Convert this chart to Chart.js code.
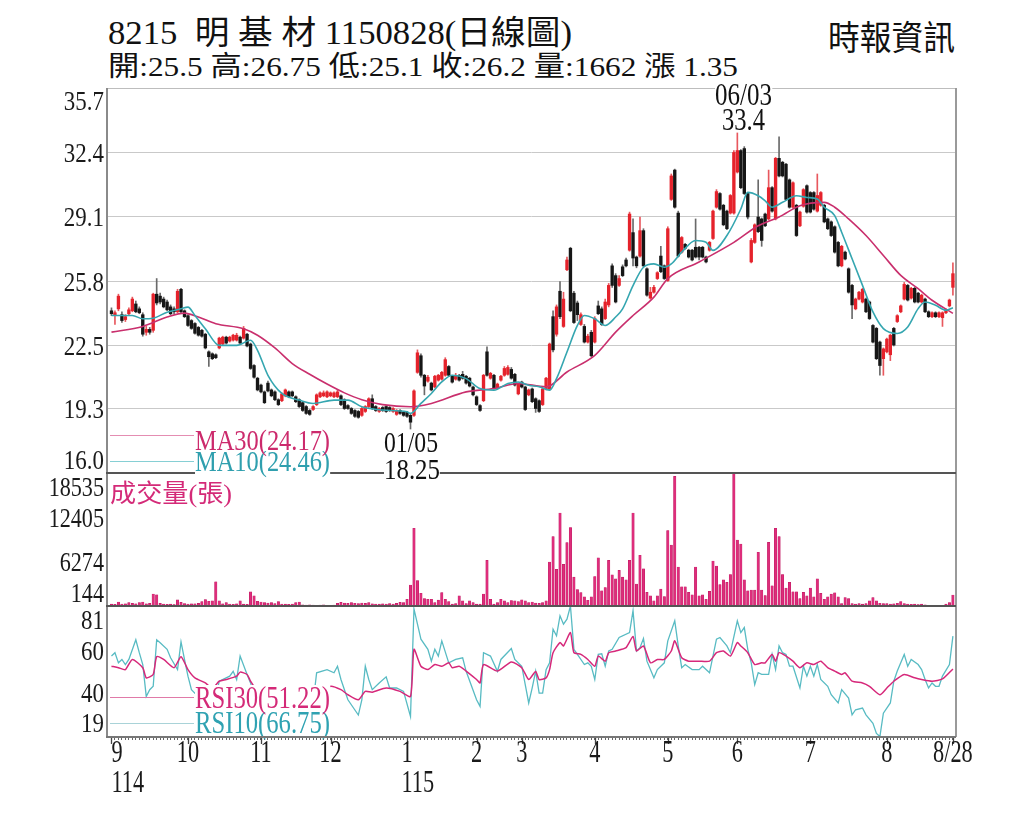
<!DOCTYPE html>
<html><head><meta charset="utf-8">
<script src="https://cdn.jsdelivr.net/npm/chart.js@4.4.1/dist/chart.umd.min.js"></script>
<style>
html,body{margin:0;padding:0;background:#fff;}
#wrap{position:relative;width:1024px;height:819px;overflow:hidden;background:#fff;}
canvas{position:absolute;left:0;}
.t{position:absolute;white-space:pre;font-family:"Liberation Serif","Noto Sans CJK TC",serif;line-height:1;transform-origin:0 0;}
.ln{position:absolute;}
</style></head><body>
<div id="wrap">
<canvas id="cP" width="1024" height="385" style="top:88px"></canvas>
<canvas id="cV" width="1024" height="133" style="top:473px"></canvas>
<canvas id="cR" width="1024" height="213" style="top:606px"></canvas>
</div>
<script>
// ---------------- data ----------------
const openP = [
24.30,24.05,24.40,24.10,23.85,24.15,24.30,24.65,24.40,24.10,
23.20,23.35,23.30,25.15,25.05,24.90,24.75,24.50,24.40,24.25,
25.40,24.30,24.05,23.80,23.65,23.45,23.30,23.10,22.20,22.10,
22.05,22.40,22.60,22.95,22.75,22.80,22.80,22.95,22.90,23.10,
22.60,21.50,20.85,20.50,20.15,20.60,20.25,20.15,19.75,19.70,
19.95,20.15,20.15,19.90,19.75,19.60,19.40,19.20,19.25,19.50,
19.90,19.95,19.90,19.95,19.90,19.90,19.95,19.75,19.45,19.30,
19.20,19.15,18.95,19.15,19.40,19.80,19.40,19.15,19.35,19.40,
19.35,19.15,19.00,19.20,19.10,19.10,18.95,18.95,21.15,22.00,
21.00,20.70,20.60,20.40,20.75,20.80,21.00,21.45,20.95,20.80,
21.00,21.05,20.95,20.85,20.40,19.90,19.45,19.70,22.20,20.85,
21.00,20.35,20.75,21.00,21.05,21.30,21.05,20.05,20.65,20.40,
20.00,20.30,19.80,19.70,19.50,20.30,20.30,24.00,23.10,25.30,
23.50,26.40,27.50,25.20,24.70,23.60,23.50,22.70,23.20,22.70,
24.55,24.40,23.90,24.60,26.60,26.10,25.60,26.55,26.90,27.40,
28.30,27.05,27.10,28.40,26.45,24.95,25.25,25.95,27.10,26.60,
25.85,30.00,31.50,29.30,27.30,27.70,27.40,27.40,27.55,27.55,
27.55,27.05,27.40,28.00,29.60,30.30,29.70,29.40,29.30,29.30,
31.40,32.50,32.60,30.30,26.80,27.80,29.10,29.00,29.25,29.00,
30.60,29.00,32.10,31.90,31.80,31.00,29.60,29.70,28.65,29.65,
30.70,30.35,30.35,29.40,29.70,29.70,29.00,28.85,28.60,27.80,
26.60,27.30,26.45,25.60,24.40,24.90,24.75,24.90,24.75,23.55,
23.40,22.70,21.85,22.20,22.05,23.40,23.75,24.25,24.90,25.60,
24.95,25.45,25.20,24.75,24.90,24.25,24.00,24.20,24.00,23.95,
24.20,24.55,25.50];
const highP = [
24.45,24.30,25.15,24.25,24.10,24.45,25.00,24.80,24.50,24.20,
23.50,23.45,25.20,25.95,25.20,25.00,24.85,24.60,24.50,25.40,
25.45,24.35,24.10,23.85,23.70,23.50,23.35,23.15,22.25,22.15,
22.10,22.95,23.00,23.00,23.00,23.10,23.15,23.00,23.50,23.15,
22.65,21.55,20.90,20.55,20.20,20.70,20.30,20.20,19.80,20.10,
20.30,20.20,20.20,19.95,19.80,19.65,19.45,19.25,19.45,20.05,
20.15,20.20,20.20,20.15,20.15,20.25,20.00,19.80,19.50,19.35,
19.25,19.20,19.35,19.45,19.85,20.00,19.45,19.35,19.40,19.45,
19.40,19.35,19.25,19.25,19.15,19.15,19.00,20.25,22.30,22.10,
21.05,21.00,20.65,21.00,21.05,21.20,21.90,21.50,21.00,21.10,
21.05,21.20,21.00,20.90,20.45,19.95,19.50,21.05,22.45,21.15,
21.05,20.60,21.00,21.45,21.50,21.40,21.10,20.60,20.70,20.45,
20.30,20.35,19.85,19.75,20.35,20.90,22.65,24.30,24.60,25.80,
25.25,27.05,27.55,25.30,24.80,24.20,23.60,23.10,23.30,24.00,
24.80,24.50,24.90,25.70,26.70,26.20,26.10,26.65,27.00,29.35,
29.00,27.10,29.10,28.50,26.50,25.50,25.60,26.30,27.60,26.65,
28.60,31.30,31.55,29.40,28.10,27.75,27.45,27.45,29.00,27.60,
27.60,27.10,27.85,29.45,30.50,30.35,29.75,29.45,30.25,32.50,
33.40,32.55,32.70,30.35,28.00,28.75,31.00,29.05,29.30,31.50,
30.65,32.15,33.20,31.95,31.85,31.05,30.90,29.75,29.40,30.55,
30.75,30.40,30.40,31.30,30.40,29.75,29.05,28.90,28.65,27.85,
27.65,27.35,26.50,25.65,24.95,25.30,25.45,24.95,24.80,23.60,
23.45,22.75,22.40,22.90,23.10,23.45,24.10,24.60,25.75,25.65,
25.50,25.50,25.25,25.15,24.95,24.30,24.25,24.25,24.25,24.25,
24.40,24.90,26.75];
const lowP = [
24.05,23.60,24.30,23.70,23.75,24.10,24.25,24.20,24.15,23.00,
23.05,23.10,23.20,24.60,24.65,24.45,24.30,24.10,24.15,24.20,
24.20,23.95,23.50,23.35,23.10,23.00,22.95,22.35,21.45,21.80,
21.85,22.35,22.55,22.60,22.70,22.75,22.75,22.60,22.85,22.45,
21.30,20.85,20.20,20.10,19.55,20.15,19.90,19.70,19.45,19.65,
19.90,19.85,19.90,19.60,19.35,19.15,19.00,18.95,19.20,19.45,
19.85,19.90,19.85,19.90,19.85,19.85,19.45,19.25,19.25,19.00,
18.85,18.80,18.90,19.10,19.35,19.25,19.15,19.10,19.15,19.10,
19.15,19.10,18.95,19.00,18.90,18.85,18.25,18.90,21.10,20.90,
20.00,20.65,20.20,20.35,20.70,20.75,20.95,20.95,20.60,20.75,
20.70,20.80,20.55,20.40,19.95,19.45,19.15,19.65,20.95,20.80,
20.30,20.30,20.70,20.95,21.00,20.80,20.45,20.00,20.35,19.20,
19.95,19.60,19.10,19.10,19.45,20.25,20.25,22.20,23.00,23.90,
23.45,26.35,24.25,23.65,23.80,23.55,22.65,22.65,21.95,22.65,
24.10,23.55,23.85,24.50,25.50,24.70,25.55,26.05,26.55,27.35,
26.60,26.50,27.05,26.55,25.05,24.90,25.20,25.90,26.25,25.90,
25.80,29.95,29.55,27.05,27.25,27.45,27.00,26.85,27.00,26.90,
27.00,26.75,27.35,27.95,29.55,29.45,28.65,28.45,29.25,29.25,
31.35,30.55,30.25,29.00,26.75,27.75,28.30,27.60,28.60,28.95,
29.35,28.95,31.15,31.15,29.95,29.55,29.55,28.10,28.60,29.60,
29.30,29.30,29.45,29.35,29.65,28.80,28.45,28.10,27.25,26.55,
26.55,26.90,25.20,23.90,24.35,24.85,24.70,24.20,23.85,22.65,
21.80,21.00,21.00,22.15,21.75,22.50,23.70,24.20,24.85,24.80,
24.90,24.70,24.70,24.70,24.20,23.95,23.95,23.95,23.95,23.50,
24.15,24.50,25.10];
const closeP = [
24.15,24.20,25.05,23.80,24.00,24.35,24.90,24.25,24.20,23.10,
23.35,23.20,25.15,24.70,24.75,24.50,24.35,24.15,24.25,25.30,
24.25,24.00,23.55,23.40,23.15,23.05,23.00,22.40,21.95,21.85,
21.90,22.90,22.95,22.65,22.95,23.05,23.05,22.65,23.40,22.50,
21.35,20.90,20.25,20.15,19.60,20.20,19.95,19.75,19.50,20.05,
20.25,19.90,19.95,19.65,19.40,19.20,19.05,19.00,19.40,20.00,
20.10,20.10,20.15,20.10,20.10,20.15,19.50,19.30,19.30,19.05,
18.90,18.85,19.30,19.40,19.80,19.30,19.20,19.30,19.20,19.15,
19.20,19.30,19.20,19.05,18.95,18.90,18.60,20.20,22.15,21.00,
20.45,20.90,20.25,20.95,21.00,21.15,21.80,21.00,20.65,21.00,
20.75,20.85,20.60,20.45,20.00,19.50,19.20,21.00,21.00,21.10,
20.35,20.55,20.95,21.35,21.40,20.85,20.50,20.55,20.40,19.25,
20.25,19.65,19.30,19.15,20.30,20.85,22.60,22.30,24.50,24.00,
24.90,26.90,24.30,23.70,24.10,24.10,22.70,23.00,22.00,23.90,
24.15,23.60,24.75,25.60,25.60,24.75,25.95,26.10,26.60,29.25,
27.00,26.60,28.40,26.60,25.10,25.25,25.50,26.25,26.30,25.95,
28.50,31.20,29.60,27.10,28.05,27.50,27.05,26.90,27.05,27.05,
27.05,26.80,27.80,29.40,30.40,29.50,28.70,28.50,30.20,32.40,
32.50,30.60,30.30,29.10,27.90,28.70,28.35,27.90,28.65,30.60,
29.40,32.10,31.20,31.20,30.00,29.60,30.85,28.15,29.35,30.50,
29.35,29.35,29.50,30.20,30.35,28.85,28.50,28.15,27.30,26.60,
27.60,26.95,25.25,24.60,24.90,25.25,25.40,24.25,23.90,22.70,
21.85,21.50,22.35,22.85,23.05,22.55,24.05,24.55,25.65,24.85,
25.45,24.75,24.75,25.10,24.25,24.00,24.20,24.00,24.20,24.20,
24.35,24.85,26.20];
const volume = [
400,380,700,420,450,600,500,450,600,700,
450,500,1800,1700,500,420,380,400,350,1000,
650,480,420,460,450,500,750,1030,800,850,
3500,850,450,600,420,380,450,850,400,380,
2100,1550,800,700,620,550,600,470,750,420,
400,380,420,600,700,300,280,300,280,250,
280,300,250,200,260,520,650,550,500,600,
520,480,550,500,620,450,420,400,450,420,
480,420,500,650,600,1080,3050,10900,3650,1900,
1170,1080,1080,620,950,2000,1080,750,400,470,
1550,850,470,850,620,400,400,1800,6460,1080,
400,620,1080,850,620,900,850,750,1000,850,
600,700,550,500,620,850,6230,9740,5200,13000,
5900,8900,11000,4130,2400,2000,1400,940,1400,4220,
6800,2250,2700,6460,4450,3900,5060,4130,3750,6460,
13000,3180,7160,5290,2020,1550,850,1550,2480,1450,
10580,8570,18070,5530,2810,2810,2020,1690,5530,1550,
1690,1080,2160,6370,5670,3090,3750,3420,4500,18535,
9270,8700,3750,2250,2340,2340,7580,2340,1600,8940,
2950,10900,9740,4500,2620,3420,2110,2110,1170,2020,
1550,2620,1410,3890,1880,1080,1410,1780,1970,1410,
470,1310,1170,470,420,470,400,470,850,1310,
850,520,470,470,420,450,520,750,470,420,
380,400,350,400,300,250,230,230,230,250,
400,620,1662];

// moving averages (day index, value)
const ma30Days = [0,9,16,21,25,30,38,42,47,52,57,62,67,72,78,86,92,102,110,117,125,131,139,145,150,156,160,169,179,186,192,198,205,208,212,217,222,227,232,236,242];
const ma30Vals = [23.21,23.5,23.98,24.18,23.98,23.64,23.38,23.05,22.4,21.6,21.05,20.55,20.1,19.75,19.5,19.39,19.56,20.15,20.32,20.58,20.41,21.17,22.02,23.21,24.06,25.0,25.95,26.8,27.8,28.65,29.1,29.68,29.85,29.6,29.0,28.15,27.13,26.11,25.43,24.84,24.17];
const ma10Days = [0,6,9,12,16,20,22,24,27,31,36,40,42,45,49,54,58,64,68,72,78,85,86,89,92,95,98,102,106,110,114,117,120,123,126,128,131,134,136,139,142,145,147,150,153,156,159,161,164,168,171,173,177,181,183,186,188,190,193,197,200,203,205,208,210,213,216,219,222,226,229,232,234,237,240,242];
const ma10Vals = [24.06,24.06,23.89,23.92,24.23,24.4,24.49,24.06,23.38,22.53,22.53,22.79,22.28,21.0,20.07,19.73,19.56,19.73,19.73,19.39,19.22,19.13,19.05,19.56,20.07,20.66,21.0,20.83,20.32,20.24,20.58,20.66,20.49,20.41,20.24,20.83,22.19,23.55,24.06,23.89,23.55,23.98,24.4,25.59,26.53,26.7,26.53,26.7,27.3,27.9,27.81,27.39,28.15,29.51,30.36,30.19,29.93,29.6,29.85,30.19,30.1,30.02,29.6,29.17,28.32,26.96,25.6,24.24,23.39,23.14,23.47,24.41,24.75,24.58,24.33,24.46];

// RSI (day index, value)
const rsi10Days = [0,1,2,3,4,5,7,8,9,10,11,12,13,14,16,17,19,20,21,22,23,25,27,29,31,34,35,36,37,39,40,42,44,46,48,50,52,54,56,58,59,62,64,65,66,67,68,71,72,73,74,75,77,79,80,82,84,86,87,89,91,92,93,94,95,97,99,101,102,105,106,107,109,111,112,115,116,118,120,121,122,123,124,125,126,127,128,129,130,131,132,133,134,136,137,138,139,140,141,142,143,144,146,149,150,151,152,153,154,156,157,159,160,162,163,164,165,167,169,170,172,174,175,177,178,180,181,182,183,184,185,186,187,189,190,191,192,193,194,195,196,198,199,200,201,202,203,204,206,207,209,210,212,213,214,216,217,219,220,221,222,224,225,226,228,229,230,232,233,234,235,236,237,238,239,241,242];
const rsi10Vals = [57.3,58.9,54.1,55.7,53.3,55.7,65.0,58.9,53.3,38.2,41.4,43.0,65.0,63.6,60.5,56.5,50.9,64.0,55.7,47.8,41.4,38,34,31,45.4,47.8,50.1,46.2,57.3,48.6,44.6,33,27,30,26,35,31,28,26,35,49.4,50.9,49.4,52.5,46.2,41.4,36.6,29.4,36.6,52.5,46.2,41.4,44.6,47.5,42.2,42.2,40.6,28.7,79.6,65.3,60.5,54.9,60.5,57.3,64.5,54.1,55.7,56.5,50.1,36.6,33.5,58.9,57.3,50.1,55.7,60.9,55.7,52.5,35.1,42.2,50.2,39.8,39.8,50.9,54.1,70.0,66.9,76.4,72.4,74.8,81.0,60.5,58.1,53.3,54.1,52.5,46.2,58.1,58.4,52.5,59.7,60.5,66.1,68.4,78.8,59.7,61.3,65.6,54.9,47.0,50.9,54.1,64.5,74.0,62.1,51.8,53.3,50.9,50.9,52.5,49.4,65.3,66.1,62.1,58.9,74.0,68.4,70.8,60.5,54.1,43.8,49.4,48.6,48.6,58.1,50.9,62.1,58.9,58.1,52.5,52.5,42.2,52.5,47.8,52.5,47.8,53.3,46.2,43.0,39.0,35.1,41.4,37.4,29.5,31.9,32.7,29.5,25.5,20.7,19.2,30.3,35.1,45.4,50.2,58.1,52.5,55.7,53.3,50.9,46.2,42.2,44.6,43.0,43.0,47.8,53.3,66.75];
const rsi30Days = [0,2,4,6,9,10,12,13,15,18,20,22,24,27,29,31,33,36,37,39,40,42,46,50,54,58,61,63,66,68,71,73,75,79,83,86,87,89,91,93,95,97,98,100,102,105,106,107,111,115,118,120,122,123,125,126,127,129,130,132,133,135,137,139,140,142,143,145,148,150,151,153,155,157,159,161,162,164,166,169,172,174,176,178,180,181,183,185,187,188,190,191,192,194,196,198,200,202,204,206,208,210,211,213,216,218,221,223,225,228,231,233,236,239,242];
const rsi30Vals = [52.5,51.8,50.9,55.7,51.8,47.0,48.6,57.0,55.7,51.8,57.0,50.9,47.0,44.6,42,45.4,46.2,47.8,49.7,48.6,45.4,41,39,38.5,38,38,40,43.0,41.4,39.0,36.6,40.6,40.2,42.2,40.6,38.2,60.5,52.5,50.9,53.3,52.5,54.1,51.8,52.5,50.2,46.2,44.6,53.3,50.2,54.5,51.8,46.2,50.0,46.2,47.0,50.9,58.9,63.7,62.1,68.4,58.9,58.1,55.7,52.5,57.3,54.9,58.9,59.7,61.3,66.6,59.7,62.1,54.1,55.7,55.7,59.7,64.5,56.5,54.9,54.9,54.9,58.9,59.7,57.3,63.7,62.1,58.9,53.3,54.1,54.1,58.1,54.9,58.9,57.3,54.9,51.8,54.1,53.3,54.9,51.8,50.2,48.6,49.4,45.4,44.6,43.0,39.0,42.2,45.4,48.6,47.0,46.2,45.4,46.5,51.22];

// axis ticks / labels
const priceTicks = [16.0,19.3,22.5,25.8,29.1,32.4,35.7];
const volTicks = [144,6274,12405,18535];
const rsiTicks = [19,40,60,81];
const monthDays = [0,22,43,63,85,105,118,139,160,180,201,223,242];
const monthLabels = ['9','10','11','12','1','2','3','4','5','6','7','8','8/28'];
const yearDays = [0,85];
const yearLabels = ['114','115'];

// ---------------- layout / style ----------------
const N = openP.length;
const dayIdx = Array.from({length: N}, (_, i) => i);
const X_MIN = -1, X_MAX = 242.6;
const FONT = '"Liberation Serif","Noto Sans CJK TC",serif';
const RED = '#e5222b', BLK = '#161616', RED_W = '#e8585e', BLK_W = '#6a6a6a';
const MA30C = '#c92f6d', MA10C = '#35a6b0', VOLC = '#de2d7b', RSI30C = '#d6287a', RSI10C = '#58bbc3';

const upDay = dayIdx.map(i => closeP[i] >= openP[i]);

function yLabelPlugin(vals, fmt, size, kx, half) {
  return {
    id: 'yLabels',
    afterDraw(chart) {
      const ctx = chart.ctx, s = chart.scales.y, a = chart.chartArea;
      ctx.save();
      ctx.font = size + 'px ' + FONT;
      ctx.fillStyle = '#1a1a1a';
      ctx.textAlign = 'right';
      ctx.textBaseline = 'alphabetic';
      vals.forEach(v => {
        let y = s.getPixelForValue(v);
        y = Math.max(a.top + half, Math.min(a.bottom - half, y));
        ctx.save();
        ctx.translate(a.left - 4, y + size * 0.34);
        ctx.scale(kx, 1);
        ctx.fillText(fmt(v), 0, 0);
        ctx.restore();
      });
      ctx.restore();
    }
  };
}

const xLabelPlugin = {
  id: 'xLabels',
  afterDraw(chart) {
    const ctx = chart.ctx, s = chart.scales.x, a = chart.chartArea;
    ctx.save();
    ctx.strokeStyle = '#444'; ctx.lineWidth = 1.3;
    monthDays.forEach(d => {
      const x = Math.round(s.getPixelForValue(d)) + 0.5;
      ctx.beginPath(); ctx.moveTo(x, a.bottom); ctx.lineTo(x, a.bottom + 7); ctx.stroke();
    });
    const size = 31, kx = 0.72;
    ctx.font = size + 'px ' + FONT; ctx.fillStyle = '#1a1a1a'; ctx.textBaseline = 'alphabetic';
    const lefts = {};
    monthDays.forEach((d, k) => {
      const x = s.getPixelForValue(d);
      const w = ctx.measureText(monthLabels[k]).width * kx;
      const left = k === 0 ? x : x - w / 2;
      lefts[d] = left;
      ctx.save(); ctx.translate(left, a.bottom + 25); ctx.scale(kx, 1);
      ctx.textAlign = 'left'; ctx.fillText(monthLabels[k], 0, 0); ctx.restore();
    });
    yearDays.forEach((d, k) => {
      ctx.save(); ctx.translate(lefts[d], a.bottom + 55); ctx.scale(kx, 1);
      ctx.textAlign = 'left'; ctx.fillText(yearLabels[k], 0, 0); ctx.restore();
    });
    ctx.restore();
  }
};

const baseOpts = (padBottom) => ({
  responsive: false, animation: false, events: [],
  layout: { padding: { left: 108, right: 69, top: 0, bottom: padBottom } },
  plugins: { legend: { display: false }, tooltip: { enabled: false } }
});
const hiddenX = { type: 'linear', min: X_MIN, max: X_MAX, offset: false, display: false };

// ---------------- price chart ----------------
new Chart(document.getElementById('cP'), {
  type: 'bar',
  data: { datasets: [
    { type: 'bar', data: dayIdx.map(i => ({ x: i, y: [lowP[i], highP[i]] })),
      backgroundColor: dayIdx.map(i => upDay[i] ? RED_W : BLK_W), barThickness: 1, grouped: false, order: 3 },
    { type: 'bar', data: dayIdx.map(i => ({ x: i, y: [openP[i], closeP[i]] })),
      backgroundColor: dayIdx.map(i => upDay[i] ? RED : BLK), barThickness: 2.7, minBarLength: 1, grouped: false, order: 2 },
    { type: 'line', data: ma30Days.map((d, k) => ({ x: d, y: ma30Vals[k] })), borderColor: MA30C, borderWidth: 1.6,
      pointRadius: 0, cubicInterpolationMode: 'monotone', order: 1 },
    { type: 'line', data: ma10Days.map((d, k) => ({ x: d, y: ma10Vals[k] })), borderColor: MA10C, borderWidth: 1.6,
      pointRadius: 0, cubicInterpolationMode: 'monotone', order: 0 }
  ]},
  options: Object.assign(baseOpts(0), {
    scales: {
      x: hiddenX,
      y: { type: 'linear', min: 16, max: 35.7, position: 'left',
        afterBuildTicks: s => { s.ticks = priceTicks.map(v => ({ value: v })); },
        afterFit: s => { s.width = 0; },
        ticks: { display: false },
        grid: { color: '#c9c9c9', lineWidth: 1, drawTicks: false },
        border: { display: false } }
    }
  }),
  plugins: [yLabelPlugin(priceTicks, v => v.toFixed(1), 27, 0.85, 13)]
});

// ---------------- volume chart ----------------
new Chart(document.getElementById('cV'), {
  type: 'bar',
  data: { datasets: [
    { type: 'bar', data: dayIdx.map(i => ({ x: i, y: volume[i] })), backgroundColor: VOLC,
      borderColor: '#b8145c', borderWidth: 0.4, barThickness: 2.4, grouped: false }
  ]},
  options: Object.assign(baseOpts(0), {
    scales: {
      x: hiddenX,
      y: { type: 'linear', min: 144, max: 18535, display: false }
    }
  }),
  plugins: [yLabelPlugin(volTicks, v => String(v), 27, 0.82, 13.5)]
});

// ---------------- RSI chart ----------------
new Chart(document.getElementById('cR'), {
  type: 'line',
  data: { datasets: [
    { data: rsi10Days.map((d, k) => ({ x: d, y: rsi10Vals[k] })), borderColor: RSI10C, borderWidth: 1.3,
      pointRadius: 0, tension: 0, order: 1 },
    { data: rsi30Days.map((d, k) => ({ x: d, y: rsi30Vals[k] })), borderColor: RSI30C, borderWidth: 1.5,
      pointRadius: 0, tension: 0.2, order: 0 }
  ]},
  options: Object.assign(baseOpts(82), {
    scales: {
      x: { type: 'linear', min: X_MIN, max: X_MAX, offset: false, position: 'bottom',
        afterBuildTicks: s => { s.ticks = dayIdx.map(v => ({ value: v })); },
        afterFit: s => { s.height = 0; },
        ticks: { display: false },
        grid: { drawOnChartArea: false, drawTicks: true, tickLength: 3, tickColor: '#666', tickWidth: 1 },
        border: { display: false } },
      y: { type: 'linear', min: 19, max: 81, display: false }
    }
  }),
  plugins: [yLabelPlugin(rsiTicks, v => String(v), 27, 0.85, 14), xLabelPlugin]
});

// ---------------- overlays ----------------
const wrap = document.getElementById('wrap');
function addLine(x, y, w, h, color) {
  const d = document.createElement('div');
  d.className = 'ln';
  d.style.cssText += `left:${x}px;top:${y}px;width:${w}px;height:${h}px;background:${color};`;
  wrap.appendChild(d);
}
function addText(txt, o) {
  const el = document.createElement('div');
  el.className = 't';
  el.style.fontSize = o.size + 'px';
  if (o.lh) el.style.lineHeight = o.lh;
  el.style.color = o.color || '#111';
  if (o.bg) el.style.background = o.bg;
  el.textContent = txt;
  const probe = document.createElement('span');
  probe.style.cssText = 'display:inline-block;width:0;height:0;';
  el.appendChild(probe);
  el.style.left = '0px'; el.style.top = '0px';
  wrap.appendChild(el);
  const r = el.getBoundingClientRect();
  const base = probe.getBoundingClientRect().top - r.top;
  const w = r.width;
  const k = o.width ? o.width / w : 1;
  const left = o.left !== undefined ? o.left : (o.right !== undefined ? o.right - w * k : o.cx - w * k / 2);
  el.style.left = left + 'px';
  el.style.top = (o.baseline - base) + 'px';
  el.style.transform = 'scaleX(' + k + ')';
}

// frame lines
addLine(106, 87.5, 850, 1, '#bdbdbd');
addLine(106, 88, 2, 649, '#8a8a8a');
addLine(955, 88, 1.5, 649, '#9a9a9a');
addLine(106, 472, 850, 2, '#555');
addLine(106, 605, 850, 2, '#555');
// legend lines
addLine(110, 435, 84, 1, '#e48db2');
addLine(110, 461, 84, 1, '#86cfd4');
addLine(110, 697, 84, 1.3, '#e07aa8');
addLine(110, 722.5, 84, 1, '#a9d3d8');

// texts
addText('8215  明 基 材 1150828(日線圖)', { left: 108, baseline: 43.5, size: 33, width: 464 });
addText('開:25.5 高:26.75 低:25.1 收:26.2 量:1662 漲 1.35', { left: 108, baseline: 75.5, size: 28, width: 630 });
addText('時報資訊', { right: 955, baseline: 49.5, size: 34, width: 127 });
addText('06/03', { cx: 743, baseline: 105, size: 31, width: 57, bg: '#fff' });
addText('33.4', { cx: 743, baseline: 130, size: 31, width: 43 });
addText('01/05', { cx: 411, baseline: 452, size: 29, width: 54, bg: '#fff', lh: 0.8 });
addText('18.25', { cx: 412, baseline: 479, size: 29, width: 56, bg: '#fff' });
addText('MA10(24.46)', { left: 195, baseline: 470.5, size: 30, width: 135, color: '#2f9fae', bg: '#fff' });
addText('MA30(24.17)', { left: 195, baseline: 450, size: 30, width: 135, color: '#cc2a6c', bg: '#fff', lh: 0.74 });
addText('成交量(張)', { left: 110, baseline: 502, size: 25, width: 122, color: '#d42a78' });
addText('RSI10(66.75)', { left: 195, baseline: 733, size: 31, width: 135, color: '#2fa2b2', bg: '#fff' });
addText('RSI30(51.22)', { left: 195, baseline: 708, size: 31, width: 135, color: '#d42a78', bg: '#fff', lh: 0.86 });
// bottom axis line on top
addLine(106, 736, 850, 2, '#777');
</script>
</body></html>
